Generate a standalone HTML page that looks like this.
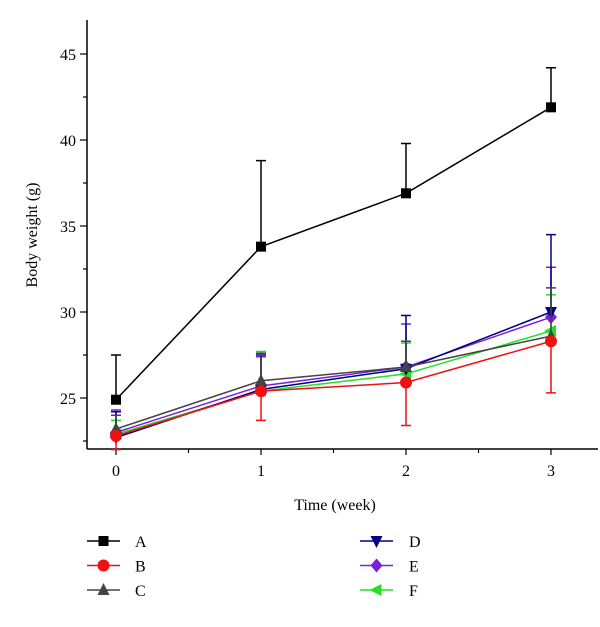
<!DOCTYPE html>
<html><head><meta charset="utf-8"><style>
body{margin:0;background:#fff;}
svg text{font-family:"Liberation Serif",serif;}
</style></head><body>
<svg id="chart" width="600" height="622" xmlns="http://www.w3.org/2000/svg"></svg>
<script>
const weeks=[0,1,2,3];
const yTicks=[25,30,35,40,45];
const seriesNames=["A","B","C","D","E","F"];
const valsA=[24.9,33.8,36.9,41.9];
const valsB=[22.8,25.4,25.9,28.3];
const valsC=[23.2,26.0,26.8,28.6];
const valsD=[22.7,25.5,26.7,30.0];
const valsE=[23.0,25.7,26.8,29.7];
const valsF=[22.9,25.4,26.4,28.9];
const errA=[2.6,5.0,2.9,2.3];
const errB=[-0.8,-1.7,-2.5,-3.0];
const errC=[0.8,1.6,1.5,2.8];
const errD=[1.5,2.0,3.1,4.5];
const errE=[1.3,1.7,2.5,2.9];
const errF=[0.8,2.3,1.8,2.1];
const colors=["#000000","#ee1111","#444444","#000080","#7a1fe0","#22e022"];
const markers=["square","circle","up","down","diamond","left"];
const NS="http://www.w3.org/2000/svg";
const svg=document.getElementById("chart");
const X=v=>116+v*145;
const Y=v=>398-(v-25)*17.2;
function mk(tag,attrs,parent){const e=document.createElementNS(NS,tag);for(const k in attrs)e.setAttribute(k,attrs[k]);(parent||svg).appendChild(e);return e;}
const ax=mk("g",{});


mk("line",{x1:87,y1:20,x2:87,y2:449,stroke:"#000","stroke-width":1.5},ax);
mk("line",{x1:87,y1:449,x2:598,y2:449,stroke:"#000","stroke-width":1.5},ax);
weeks.forEach(w=>{
  mk("line",{x1:X(w),y1:449,x2:X(w),y2:455,stroke:"#000","stroke-width":1.2},ax);
  if(w<3)mk("line",{x1:X(w+0.5),y1:449,x2:X(w+0.5),y2:453,stroke:"#000","stroke-width":1.2},ax);
  const t=mk("text",{x:X(w),y:476,"text-anchor":"middle","font-size":16},ax);t.textContent=w;
  
  
});
for(let v=22.5;v<=47;v+=2.5){
  const major=yTicks.includes(v);
  mk("line",{x1:87,y1:Y(v),x2:major?80:83,y2:Y(v),stroke:"#000","stroke-width":1.2},ax);
}
yTicks.forEach(v=>{
  const t=mk("text",{x:76,y:Y(v)+6,"text-anchor":"end","font-size":16},ax);t.textContent=v;
  
  
});
const xt=mk("text",{x:335,y:510,"text-anchor":"middle","font-size":16});xt.textContent="Time (week)";


const yt=mk("text",{x:0,y:0,"text-anchor":"middle","font-size":16,transform:"translate(37,235) rotate(-90)"});yt.textContent="Body weight (g)";


function marker(type,x,y,c,g){
  const s=6;
  if(type==="square")return mk("rect",{x:x-s+1,y:y-s+1,width:2*s-2,height:2*s-2,fill:c},g);
  if(type==="circle")return mk("circle",{cx:x,cy:y,r:s,fill:c},g);
  if(type==="up")return mk("polygon",{points:`${x},${y-s-1} ${x-s},${y+s-1} ${x+s},${y+s-1}`,fill:c},g);
  if(type==="down")return mk("polygon",{points:`${x},${y+s+1} ${x-s},${y-s+1} ${x+s},${y-s+1}`,fill:c},g);
  if(type==="diamond")return mk("polygon",{points:`${x},${y-s-1} ${x+s},${y} ${x},${y+s+1} ${x-s},${y}`,fill:c},g);
  return mk("polygon",{points:`${x-s-1},${y} ${x+s-1},${y-s} ${x+s-1},${y+s}`,fill:c},g);
}
const allVals=[valsA,valsB,valsC,valsD,valsE,valsF];
const allErr=[errA,errB,errC,errD,errE,errF];
const order=[5,4,3,2,1,0];
order.forEach(i=>{
  const g=mk("g",{});
  
  
  const c=colors[i],vals=allVals[i],err=allErr[i];
  weeks.forEach((w,j)=>{
    const y1=Y(vals[j]),y2=Y(vals[j]+err[j]);
    const eb=mk("path",{d:`M${X(w)},${y1}V${y2}M${X(w)-5},${y2}H${X(w)+5}`,stroke:c,"stroke-width":1.5,fill:"none"},g);
    
    
  });
  const ln=mk("polyline",{points:weeks.map((w,j)=>X(w)+","+Y(vals[j])).join(" "),stroke:c,"stroke-width":1.5,fill:"none"},g);
  
  
  weeks.forEach((w,j)=>{
    const m=marker(markers[i],X(w),Y(vals[j]),c,g);
    
    
  });
});
const lg=mk("g",{});


seriesNames.forEach((n,i)=>{
  const col=i<3?0:1,row=i%3;
  const x0=col?360:87,y=541+row*24.5;
  const e=mk("g",{},lg);
  
  
  mk("line",{x1:x0,y1:y,x2:x0+33,y2:y,stroke:colors[i],"stroke-width":1.5},e);
  marker(markers[i],x0+16.5,y,colors[i],e);
  const t=mk("text",{x:col?409:135,y:y+6,"font-size":16},e);t.textContent=n;
});
</script>
</body></html>
